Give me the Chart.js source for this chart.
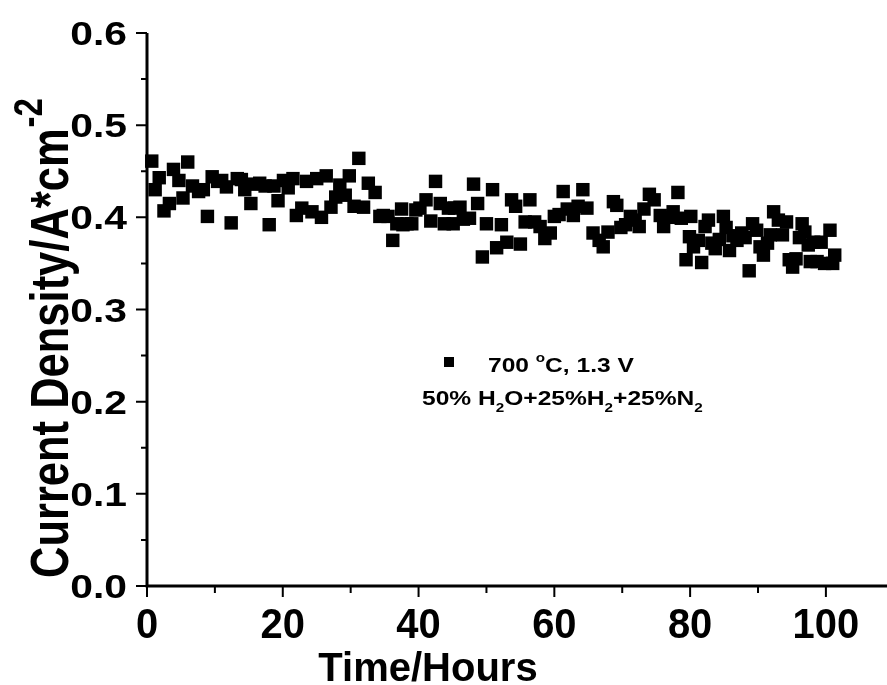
<!DOCTYPE html>
<html>
<head>
<meta charset="utf-8">
<script src="https://cdn.jsdelivr.net/npm/chart.js@4.4.1/dist/chart.umd.min.js"></script>
<style>
    body { margin: 0; background: #fff; }
    #wrap { width: 887px; height: 685px; }
</style>
</head>
<body>
<div id="wrap"><canvas id="chart" width="887" height="685"></canvas></div>
<script>
// data
const timeHours = [
    0.7, 1.2, 1.8, 2.5, 3.3, 3.9, 4.7, 5.3, 6.0, 6.7, 7.6, 8.3, 8.9, 9.6, 10.4, 11.0, 11.7, 12.4, 13.3, 13.9,
    14.4, 15.3, 15.8, 16.6, 17.4, 18.0, 18.7, 19.3, 20.1, 20.8, 21.5, 22.0, 22.8, 23.5, 24.3, 25.0, 25.7, 26.4, 27.1, 27.8,
    28.4, 29.2, 29.8, 30.5, 31.2, 31.9, 32.6, 33.6, 34.3, 34.8, 35.5, 36.2, 36.8, 37.5, 37.7, 38.3, 39.0, 39.6, 40.2, 41.1,
    41.8, 42.5, 43.2, 43.8, 44.4, 45.1, 45.3, 46.1, 46.6, 47.5, 48.1, 48.7, 49.4, 50.0, 50.9, 51.5, 52.2, 53.0, 53.7, 54.3,
    55.0, 55.7, 56.4, 57.1, 57.9, 58.6, 59.4, 60.0, 60.7, 61.3, 61.9, 62.8, 63.5, 64.2, 64.8, 65.7, 66.6, 67.2, 67.9, 68.7,
    69.2, 69.8, 70.5, 71.2, 71.9, 72.5, 73.2, 74.0, 74.7, 75.6, 76.1, 76.8, 77.5, 78.2, 78.7, 79.4, 79.9, 80.1, 80.5, 81.2,
    81.7, 82.2, 82.7, 83.2, 83.7, 84.3, 84.9, 85.3, 85.8, 86.3, 86.9, 87.6, 88.1, 88.7, 89.2, 89.8, 90.3, 90.8, 91.4, 91.8,
    92.3, 93.0, 93.6, 94.2, 94.6, 95.1, 95.6, 96.1, 96.5, 96.9, 97.4, 97.7, 98.2, 98.7, 99.3, 99.8, 100.6, 101.0, 101.3
];
const currentDensity = [
    0.461, 0.430, 0.443, 0.407, 0.415, 0.452, 0.440, 0.421, 0.460, 0.434, 0.428, 0.430, 0.401, 0.444, 0.439, 0.440, 0.433, 0.394, 0.442, 0.441,
    0.430, 0.415, 0.436, 0.437, 0.434, 0.392, 0.434, 0.418, 0.440, 0.432, 0.442, 0.402, 0.410, 0.439, 0.406, 0.442, 0.400, 0.445, 0.411, 0.422,
    0.435, 0.424, 0.445, 0.412, 0.464, 0.411, 0.437, 0.427, 0.401, 0.402, 0.401, 0.375, 0.393, 0.409, 0.392, 0.393, 0.393, 0.408, 0.410, 0.419,
    0.396, 0.439, 0.415, 0.393, 0.410, 0.393, 0.410, 0.411, 0.398, 0.399, 0.436, 0.415, 0.357, 0.393, 0.430, 0.367, 0.392, 0.373, 0.419, 0.412,
    0.371, 0.395, 0.419, 0.395, 0.390, 0.377, 0.383, 0.401, 0.403, 0.428, 0.409, 0.402, 0.412, 0.430, 0.410, 0.383, 0.375, 0.368, 0.384, 0.417,
    0.413, 0.389, 0.392, 0.401, 0.397, 0.390, 0.409, 0.425, 0.419, 0.402, 0.390, 0.400, 0.406, 0.427, 0.399, 0.354, 0.379, 0.401, 0.368, 0.375,
    0.351, 0.390, 0.397, 0.372, 0.366, 0.376, 0.401, 0.389, 0.364, 0.380, 0.375, 0.383, 0.378, 0.342, 0.393, 0.386, 0.368, 0.359, 0.372, 0.381,
    0.406, 0.397, 0.381, 0.395, 0.354, 0.346, 0.355, 0.378, 0.393, 0.384, 0.370, 0.352, 0.373, 0.352, 0.373, 0.350, 0.386, 0.350, 0.359
];
const xTicks = [0, 20, 40, 60, 80, 100];
const xMinorTicks = [10, 30, 50, 70, 90];
const yTicks = [0.0, 0.1, 0.2, 0.3, 0.4, 0.5, 0.6];
const yMinorTicks = [0.05, 0.15, 0.25, 0.35, 0.45, 0.55];

const FONT = '"Liberation Sans", Arial, sans-serif';

// text squeezed/stretched horizontally like in the scanned figure
function drawScaled(ctx, text, x, y, align, size, sx) {
    ctx.save();
    ctx.translate(x, y);
    ctx.scale(sx, 1);
    ctx.font = `bold ${size}px ${FONT}`;
    ctx.textAlign = align;
    ctx.fillText(text, 0, 0);
    ctx.restore();
}

// text pieces with sub/superscripts, left to right
function drawRich(ctx, parts, x, y, size, sx) {
    ctx.save();
    ctx.translate(x, y);
    ctx.scale(sx, 1);
    ctx.textAlign = 'left';
    let cx = 0;
    parts.forEach(p => {
        const s = p.sub || p.sup ? size * 0.62 : size;
        ctx.font = `bold ${s}px ${FONT}`;
        let dy = 0;
        if (p.sub) dy = size * 0.32;
        if (p.sup) dy = -size * 0.5;
        ctx.fillText(p.t, cx, dy);
        cx += ctx.measureText(p.t).width;
    });
    ctx.restore();
}

const axesPlugin = {
    id: 'axesPlugin',
    afterDraw(chart) {
        const ctx = chart.ctx;
        const a = chart.chartArea;
        const xs = chart.scales.x, ys = chart.scales.y;
        ctx.save();
        ctx.strokeStyle = '#000';
        ctx.fillStyle = '#000';
        ctx.lineWidth = 3;
        ctx.beginPath();
        ctx.moveTo(a.left, a.top);
        ctx.lineTo(a.left, a.bottom);
        ctx.lineTo(chart.width, a.bottom);
        ctx.stroke();

        ctx.lineWidth = 2;
        ctx.beginPath();
        xTicks.forEach(v => { const p = xs.getPixelForValue(v); ctx.moveTo(p, a.bottom); ctx.lineTo(p, a.bottom + 11); });
        xMinorTicks.forEach(v => { const p = xs.getPixelForValue(v); ctx.moveTo(p, a.bottom); ctx.lineTo(p, a.bottom + 7); });
        yTicks.forEach(v => { const p = ys.getPixelForValue(v); ctx.moveTo(a.left, p); ctx.lineTo(a.left - 11, p); });
        yMinorTicks.forEach(v => { const p = ys.getPixelForValue(v); ctx.moveTo(a.left, p); ctx.lineTo(a.left - 6, p); });
        ctx.stroke();

        // tick labels
        ctx.textBaseline = 'alphabetic';
        xTicks.forEach(v => drawScaled(ctx, String(v), xs.getPixelForValue(v), a.bottom + 52, 'center', 42, 0.95));
        yTicks.forEach(v => drawScaled(ctx, v.toFixed(1), a.left - 20, ys.getPixelForValue(v) + 12, 'right', 34, 1.2));

        // axis titles
        drawScaled(ctx, 'Time/Hours', 428, 681, 'center', 40, 1);

        ctx.save();
        ctx.translate(68, 578);
        ctx.rotate(-Math.PI / 2);
        ctx.scale(1, 1.25);
        ctx.textAlign = 'left';
        ctx.font = `bold 43.5px ${FONT}`;
        const main = 'Current Density/A*cm';
        ctx.fillText(main, 0, 0);
        const w = ctx.measureText(main).width;
        ctx.font = `bold 33px ${FONT}`;
        ctx.fillText('-2', w + 1, -21);
        ctx.restore();

        // legend
        ctx.fillRect(444, 357, 10, 10);
        drawRich(ctx, [{ t: '700 ' }, { t: 'o', sup: true }, { t: 'C, 1.3 V' }], 488, 372, 21, 1.17);
        drawRich(ctx, [
            { t: '50% H' }, { t: '2', sub: true }, { t: 'O+25%H' }, { t: '2', sub: true },
            { t: '+25%N' }, { t: '2', sub: true }
        ], 422, 405, 21, 1.17);
        ctx.restore();
    }
};

new Chart(document.getElementById('chart').getContext('2d'), {
    type: 'scatter',
    data: {
        datasets: [{
            label: '700 °C, 1.3 V',
            data: timeHours.map((t, i) => ({ x: t, y: currentDensity[i] })),
            pointStyle: 'rect',
            pointRadius: 9.5,
            pointHoverRadius: 9.5,
            backgroundColor: '#000',
            borderWidth: 0,
            clip: false
        }]
    },
    options: {
        responsive: false,
        animation: false,
        events: [],
        layout: { autoPadding: false, padding: { top: 33, right: 0, left: 0, bottom: 0 } },
        plugins: { legend: { display: false }, tooltip: { enabled: false } },
        scales: {
            x: {
                type: 'linear',
                min: 0,
                max: 109,
                afterFit: s => { s.height = 99; s.paddingLeft = 0; s.paddingRight = 0; },
                grid: { display: false, drawTicks: false },
                border: { display: false },
                ticks: { display: false }
            },
            y: {
                min: 0,
                max: 0.6,
                afterFit: s => { s.width = 147; s.paddingTop = 0; s.paddingBottom = 0; },
                grid: { display: false, drawTicks: false },
                border: { display: false },
                ticks: { display: false }
            }
        }
    },
    plugins: [axesPlugin]
});
</script>
</body>
</html>
